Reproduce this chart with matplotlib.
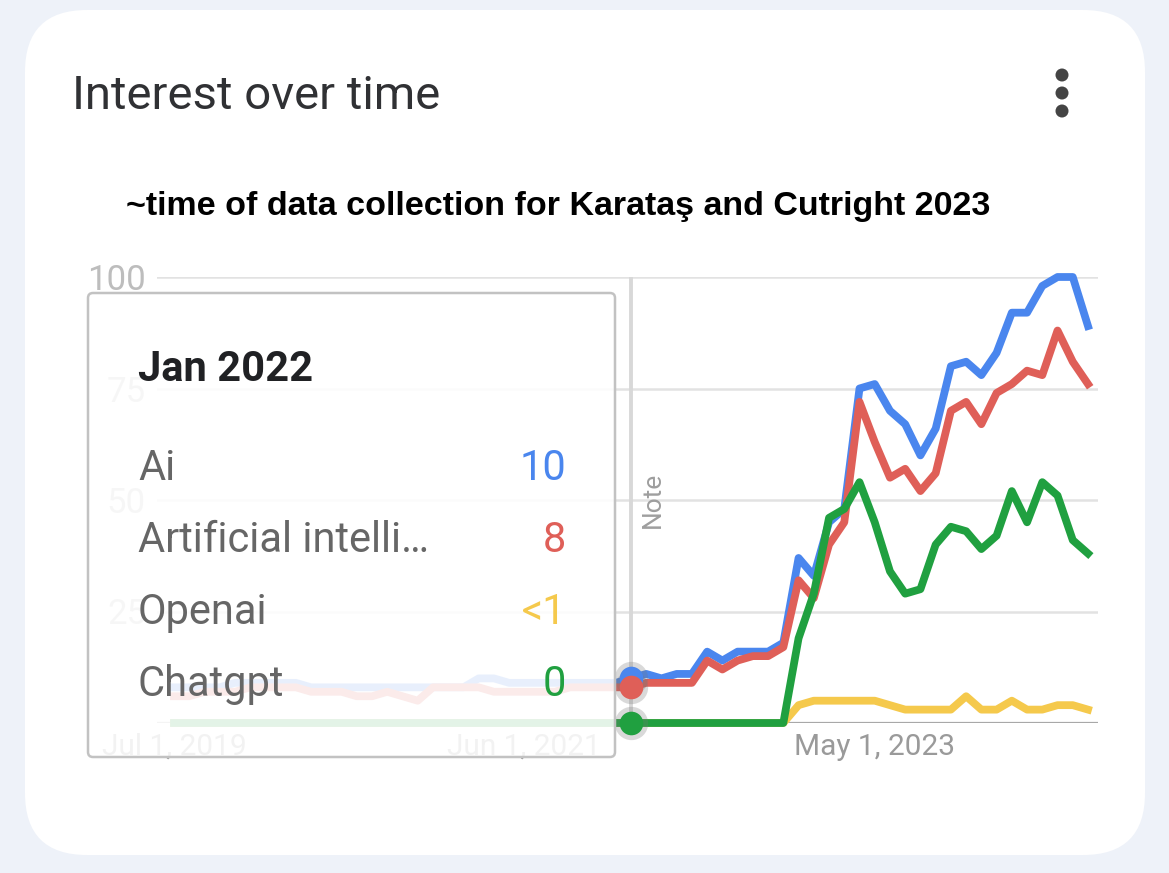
"""Google Trends style 'Interest over time' card with hover tooltip"""
import numpy as np
import pandas as pd
import matplotlib
matplotlib.use("Agg")
import matplotlib.pyplot as plt
from matplotlib.patches import FancyBboxPatch, Circle

plt.rcParams["font.family"] = ["Roboto", "DejaVu Sans"]

# monthly data, Jul 2019 .. Jul 2024
months = pd.date_range("2019-07-01", "2024-07-01", freq="MS")
ai = [8, 8, 8, 8, 9, 9, 9, 9, 9, 8, 8, 8, 8, 8, 8, 8, 8, 8, 8, 8, 10, 10, 9, 9, 9, 9, 9, 9, 9, 9,
      10, 11, 10, 11, 11, 16, 14, 16, 16, 16, 18, 37, 33, 45, 48, 75, 76, 70, 67, 60, 66,
      80, 81, 78, 83, 92, 92, 98, 100, 100, 89]
artificial = [6, 6, 7, 7, 7, 8, 8, 8, 8, 7, 7, 7, 6, 6, 7, 6, 5, 8, 8, 8, 8, 7, 7, 7, 7, 7, 8, 8, 8, 8,
              8, 9, 9, 9, 9, 14, 12, 14, 15, 15, 17, 32, 28, 40, 45, 72, 63, 55, 57, 52, 56,
              70, 72, 67, 74, 76, 79, 78, 88, 81, 76]
openai = [0, 0, 0, 0, 0, 0, 0, 0, 0, 0, 0, 0, 0, 0, 0, 0, 0, 0, 0, 0, 0, 0, 0, 0, 0, 0, 0, 0, 0, 0,
          0, 0, 0, 0, 0, 0, 0, 0, 0, 0, 0, 4, 5, 5, 5, 5, 5, 4, 3, 3, 3,
          3, 6, 3, 3, 5, 3, 3, 4, 4, 3]
chatgpt = [0, 0, 0, 0, 0, 0, 0, 0, 0, 0, 0, 0, 0, 0, 0, 0, 0, 0, 0, 0, 0, 0, 0, 0, 0, 0, 0, 0, 0, 0,
           0, 0, 0, 0, 0, 0, 0, 0, 0, 0, 0, 19, 29, 46, 48, 54, 45, 34, 29, 30, 40,
           44, 43, 39, 42, 52, 45, 54, 51, 41, 38]

series_names = ["Ai", "Artificial intelli\u2026", "Openai", "Chatgpt"]
colors = ["#4a86ee", "#df5f58", "#f5c94c", "#20a040"]
hover_month = "2022-01-01"
hover_labels = ["10", "8", "<1", "0"]
xtick_months = ["2019-07-01", "2021-06-01", "2023-05-01"]
xtick_labels = ["Jul 1, 2019", "Jun 1, 2021", "May 1, 2023"]
yticks = [25, 50, 75, 100]

W, H = 1169, 873
fig = plt.figure(figsize=(W / 100, H / 100), dpi=100)
fig.patch.set_facecolor("#eef2f9")

# background card
bg = fig.add_axes([0, 0, 1, 1], zorder=0)
bg.set_xlim(0, W); bg.set_ylim(H, 0); bg.axis("off")
bg.add_patch(FancyBboxPatch((25, 10), 1120, 845, boxstyle="round,pad=0,rounding_size=62",
                            fc="white", ec="none"))
bg.text(72, 96, "Interest over time", fontsize=34, color="#303134", va="center", ha="left")
for yy in (75, 93, 111):
    bg.add_patch(Circle((1062, yy), 6.5, fc="#444444", ec="none"))
bg.text(126, 207, "~time of data collection for Karata\u015f and Cutright 2023",
        fontsize=24.5, fontweight="bold", family="Liberation Sans", color="black",
        va="center", ha="left")

# chart
x0, x1, y0, y1 = 157, 1098, 723, 277
ax = fig.add_axes([x0 / W, (H - y0) / H, (x1 - x0) / W, (y0 - y1) / H], zorder=1)
ax.patch.set_alpha(0)
x = np.arange(len(months))
px_per = (1088 - 174) / 60
ax.set_xlim(-(174 - x0) / px_per, 60 + (x1 - 1088) / px_per)
ax.set_ylim(0, 100)
for s in ax.spines.values():
    s.set_visible(False)
for v in yticks:
    ax.axhline(v, color="#e2e2e2", lw=1.8, zorder=0)
ax.axhline(0, color="#a8a8a8", lw=1.6, zorder=0)

ax.set_yticks(yticks)
ax.set_yticklabels([str(v) for v in yticks])
ax.tick_params(axis="y", length=0, pad=8, labelsize=25, labelcolor="#bdbdbd")
xt = [months.get_loc(pd.Timestamp(m)) for m in xtick_months]
ax.set_xticks(xt)
ax.set_xticklabels(xtick_labels)
ax.tick_params(axis="x", length=0, pad=7, labelsize=21.5, labelcolor="#9a9a9a")

hi = months.get_loc(pd.Timestamp(hover_month))
ax.axvline(hi, color="#d8d8d8", lw=2.8, zorder=1)
ax.text(hi + 1.45, 50, "Note", rotation=90, fontsize=19, color="#9e9e9e",
        ha="center", va="center")

for vals, c in zip([ai, artificial, openai, chatgpt], colors):
    ax.plot(x, vals, color=c, lw=5.6, solid_joinstyle="round", clip_on=False, zorder=2)

for vals, c in zip([ai, artificial, chatgpt], [colors[0], colors[1], colors[3]]):
    ax.plot(hi, vals[hi], "o", ms=24, color="#777777", alpha=0.28, mec="none",
            clip_on=False, zorder=3)
    ax.plot(hi, vals[hi], "o", ms=17, color=c, mec="none", clip_on=False, zorder=4)

# tooltip overlay
ov = fig.add_axes([0, 0, 1, 1], zorder=2)
ov.set_xlim(0, W); ov.set_ylim(H, 0); ov.axis("off")
ov.add_patch(FancyBboxPatch((88, 293), 527, 464, boxstyle="round,pad=0,rounding_size=5",
                            fc=(1, 1, 1, 0.88), ec="#c2c2c2", lw=1.8))
ov.text(138, 381, pd.Timestamp(hover_month).strftime("%b %Y"), fontsize=30,
        fontweight="bold", color="#202124", ha="left", va="baseline")
for i, (name, lab, c) in enumerate(zip(series_names, hover_labels, colors)):
    yb = 480 + 72 * i
    ov.text(138, yb, name, fontsize=30, color="#666666", ha="left", va="baseline")
    ov.text(566, yb, lab, fontsize=30, color=c, ha="right", va="baseline")

fig.savefig("out.png", dpi=100, facecolor=fig.get_facecolor())
plt.close()
